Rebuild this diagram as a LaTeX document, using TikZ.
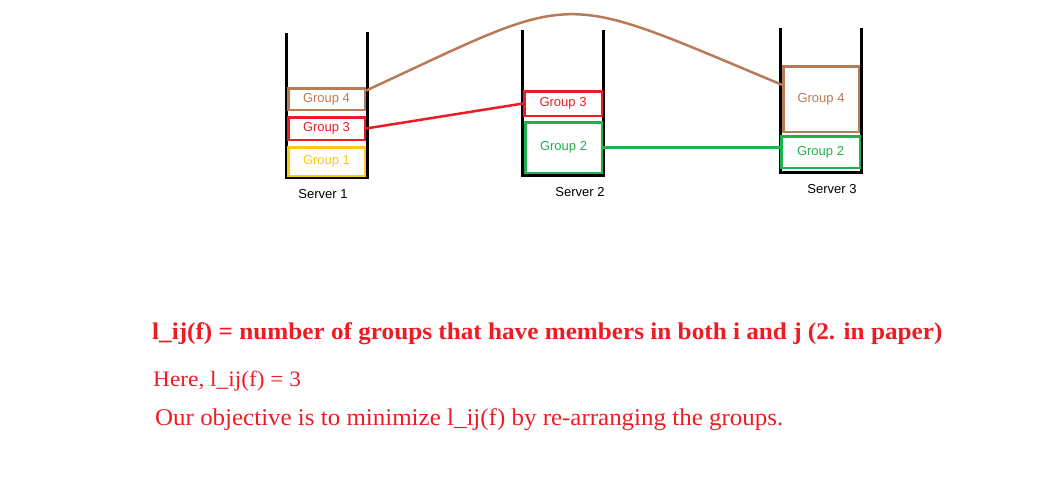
\documentclass[tikz,border=0pt]{standalone}
\usepackage{fontspec}
\setmainfont{Liberation Serif}
\setsansfont{Liberation Sans}
\usetikzlibrary{positioning}
\definecolor{pred}{RGB}{237,28,36}
\definecolor{pbrown}{RGB}{185,122,87}
\definecolor{pyellow}{RGB}{255,201,14}
\definecolor{pgreen}{RGB}{34,177,76}
\tikzset{
  group/.style={draw=#1, text=#1, line width=2.5pt, inner sep=0pt,
    font=\sffamily\fontsize{13}{15}\selectfont},
  wall/.style={line width=3pt},
  srvlabel/.style={font=\sffamily\fontsize{13}{15}\selectfont},
  note/.style={text=pred, anchor=base west, inner sep=0pt}
}
\begin{document}
\begin{tikzpicture}[x=1pt, y=-1pt]
    \useasboundingbox (0,0) rectangle (1056,480);

    % servers
    \draw[wall] (286,33) -- (286,177) -- (367,177) -- (367,32);
    \draw[wall] (522,30) -- (522,175) -- (603,175) -- (603,30);
    \draw[wall] (780,28) -- (780,172) -- (861,172) -- (861,28);

    \node[group=pbrown, minimum width=76.5pt, minimum height=21.5pt]
    (s1g4) at (326.5,99) {Group 4};
    \node[group=pred, minimum width=76.5pt, minimum height=22.5pt]
    (s1g3) at (326.5,128.5) {Group 3};
    \node[group=pyellow, minimum width=76.5pt, minimum height=28.5pt]
    (s1g1) at (326.5,161.5) {Group 1};

    \node[group=pred, minimum width=77.5pt, minimum height=24.5pt]
    (s2g3) at (563,103.5) {Group 3};
    \node[group=pgreen, minimum width=76.5pt, minimum height=50.5pt]
    (s2g2) at (563.5,147.5) {Group 2};

    \node[group=pbrown, minimum width=75.5pt, minimum height=65.5pt]
    (s3g4) at (821,99) {Group 4};
    \node[group=pgreen, minimum width=78.5pt, minimum height=31.5pt]
    (s3g2) at (820.5,152) {Group 2};

    \node[srvlabel] (S1) at (323,194) {Server 1};
    \node[srvlabel] (S2) at (580,192) {Server 2};
    \node[srvlabel] (S3) at (832,189) {Server 3};

    % shared groups
    \draw[pred, line width=2.5pt] (s1g3.east) -- (s2g3.west);
    \draw[pgreen, line width=2.5pt] (s2g2.east) -- (s2g2.east -| s3g2.west);
    \draw[pbrown, line width=2.5pt] (s1g4.12)
      .. controls +(217,-100.5) and +(-229,-95.5) .. (s3g4.160);

    \node[note, font=\bfseries\fontsize{24}{28}\selectfont] (L1) at (152,339)
    {\scalebox{1.05}[1]{l\_ij(f) = number of groups that have members in both i and j (2. in paper)}};
    \node[note, font=\fontsize{22}{26}\selectfont] (L2) at (153,386)
    {\scalebox{1.06}[1]{Here, l\_ij(f) = 3}};
    \node[note, font=\fontsize{24}{28}\selectfont] (L3) at (155,425)
    {\scalebox{1.04}[1]{Our objective is to minimize l\_ij(f) by re-arranging the groups.}};
\end{tikzpicture}
\end{document}
